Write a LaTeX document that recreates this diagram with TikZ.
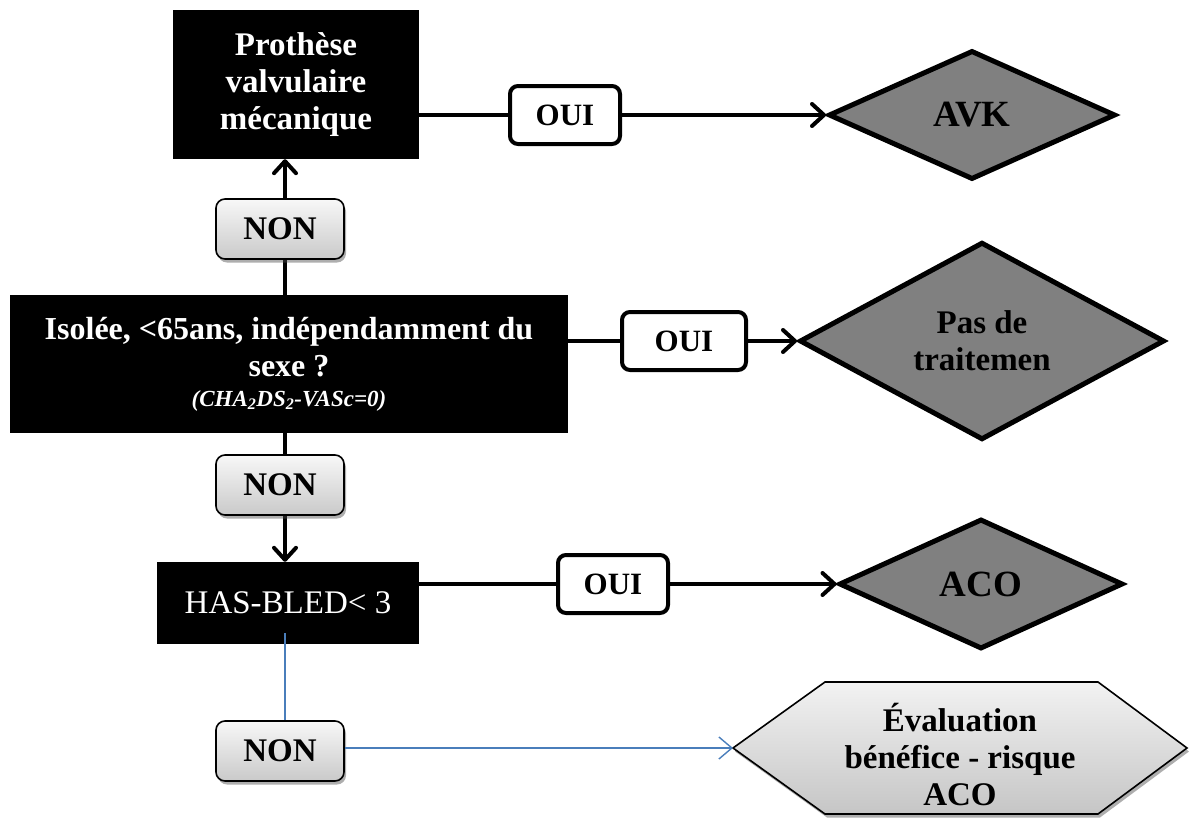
\documentclass[tikz,border=0pt]{standalone}
\usepackage{fontspec}
\setmainfont{Liberation Serif}
\usetikzlibrary{arrows.meta,shapes.geometric,shadows}

\tikzset{
  txt/.style={font=\bfseries\fontsize{33}{37}\selectfont},
  blackbox/.style={rectangle, fill=black, text=white, align=center, inner sep=0pt},
  ouibox/.style={rectangle, rounded corners=8pt, draw=black, line width=4pt, fill=white,
    font=\bfseries\fontsize{31}{36}\selectfont, inner sep=0pt},
  nonbox/.style={rectangle, rounded corners=9pt, draw=black, line width=1.6pt,
    top color=gray!6, bottom color=gray!42,
    drop shadow={shadow xshift=2pt, shadow yshift=-3.5pt, opacity=.45, fill=black!70},
    font=\bfseries\fontsize{33}{37}\selectfont, minimum width=128pt, minimum height=60pt, inner sep=0pt},
  decision/.style={diamond, draw=black, line width=5pt, fill=black!50, align=center,
    inner sep=0pt},
  conn/.style={draw=black, line width=4pt},
  arr/.style={conn, -{Straight Barb[length=12pt,width=22pt,line cap=round,line join=round]}},
  hexshape/.style={draw=black, line width=1.6pt, top color=gray!10, bottom color=gray!45,
    drop shadow={shadow xshift=2pt, shadow yshift=-3.5pt, opacity=.45, fill=black!70}},
}
\definecolor{linkblue}{RGB}{74,126,187}

\begin{document}
\begin{tikzpicture}[x=1pt, y=-1pt]
  \useasboundingbox (0,0) rectangle (1189,819);
  \coordinate (axis) at (285,0);

  % decision boxes on the left
  \node[blackbox, txt, minimum width=246pt, minimum height=149pt] (pro) at (296,84.5)
    {Prothèse\\valvulaire\\mécanique};
  \node[blackbox, font=\bfseries\fontsize{32}{37}\selectfont, minimum width=558pt, minimum height=138pt] (iso) at (289,364)
    {Isolée, <65ans, indépendamment du\\sexe ?\\[-7pt]
     {\fontsize{23}{28}\selectfont\itshape (CHA\textsubscript{2}DS\textsubscript{2}-VASc=0)}};
  \node[blackbox, font=\fontsize{33}{37}\selectfont, minimum width=262pt, minimum height=82pt] (has) at (288,603)
    {HAS-BLED< 3};

  % outcomes
  \node[decision, minimum width=287pt, minimum height=129pt, font=\bfseries\fontsize{37}{40}\selectfont] (avk) at (972,115) {AVK};
  \node[decision, minimum width=365pt, minimum height=188pt, txt] (pas) at (982,341) {Pas de\\traitemen};
  \node[decision, minimum width=284pt, minimum height=130pt, font=\bfseries\fontsize{37}{40}\selectfont] (aco) at (981,584) {ACO};

  % shaded hexagon for the last outcome
  \path[hexshape] (733,748) -- (825,682) -- (1098,682) -- (1187,748) -- (1098,814) -- (825,814) -- cycle;
  \coordinate (hexW) at (733,748);
  \node[txt, align=center] (evl) at (960,754) {Évaluation\\bénéfice - risque\\ACO};

  % OUI branches
  \node[ouibox, minimum width=110pt, minimum height=58pt] (oui1) at (565,115) {OUI};
  \node[ouibox, minimum width=124pt, minimum height=58pt] (oui2) at (684,341) {OUI};
  \node[ouibox, minimum width=110pt, minimum height=58pt] (oui3) at (613,584) {OUI};

  \draw[conn] (oui1.west -| pro.east) -- (oui1.west);
  \draw[arr] (oui1.east) -- (avk.west);
  \draw[conn] (oui2.west -| iso.east) -- (oui2.west);
  \draw[arr] (oui2.east) -- (pas.west);
  \draw[conn] (oui3.west -| has.east) -- (oui3.west);
  \draw[arr] (oui3.east) -- (aco.west);

  % NON branches
  \draw[arr] (iso.north -| axis) -- (pro.south -| axis);
  \draw[arr] (iso.south -| axis) -- (has.north -| axis);
  \node[nonbox] (non1) at (280,229) {NON};
  \node[nonbox] (non2) at (280,485) {NON};

  \coordinate (bluestart) at (285,633);
  \node[nonbox] (non3) at (280,751) {NON};
  \draw[draw=linkblue, line width=1.4pt] (bluestart) -- (non3.north -| axis);
  \draw[draw=linkblue, line width=1.4pt, -{Straight Barb[length=13pt,width=22pt]}]
    (non3.east |- hexW) -- (hexW);
\end{tikzpicture}
\end{document}
